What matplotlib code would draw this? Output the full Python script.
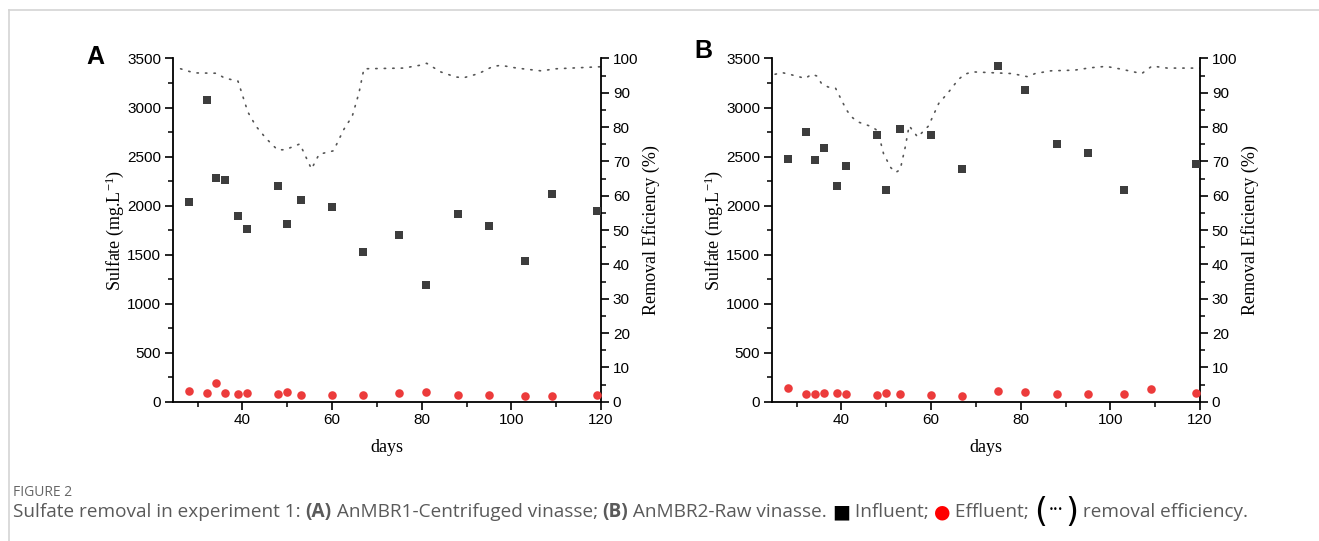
import matplotlib
matplotlib.use("Agg")
import matplotlib.pyplot as plt
from matplotlib.ticker import MultipleLocator
from matplotlib.lines import Line2D

# ---------------- data ----------------
days_A = [28, 32, 34, 36, 39, 41, 48, 50, 53, 60, 67, 75, 81, 88, 95, 103, 109, 119]
influent_A = [2036, 3078, 2281, 2261, 1890, 1760, 2200, 1815, 2053, 1989, 1529, 1703,
              1185, 1910, 1788, 1437, 2114, 1944]
effluent_A = [109, 92, 187, 85, 82, 85, 82, 99, 71, 65, 68, 92, 102, 65, 68, 58, 58, 65]

eff_days_A = [26.2, 29.2, 34.2, 36, 39.0, 41.2, 43, 45.2, 47.8, 49.5, 52.8, 55.4, 57.1,
              60.3, 62.6, 64.5, 66.0, 67.1, 75.9, 79.5, 81.1, 84.2, 87.6, 89.4, 92.7,
              95.9, 97.7, 101.2, 106.6, 110.0, 120]
eff_A = [97.0, 95.8, 95.7, 94.3, 93.4, 84.4, 80.3, 76.8, 73.4, 73.4, 75.1, 67.8, 72.1,
         73.1, 79.3, 83.2, 90.0, 97.0, 97.2, 98.0, 98.6, 96.1, 94.6, 94.4, 95.6,
         97.7, 98.0, 97.2, 96.4, 97.0, 97.6]

days_B_in = [28, 32, 34, 36, 39, 41, 48, 50, 53, 60, 67, 75, 81, 88, 95, 103, 119]
influent_B = [2479, 2751, 2462, 2588, 2200, 2407, 2724, 2155, 2782, 2721, 2373, 3425,
              3177, 2629, 2533, 2155, 2428]
days_B_ef = [28, 32, 34, 36, 39, 41, 48, 50, 53, 60, 67, 75, 81, 88, 95, 103, 109, 119]
effluent_B = [139, 78, 75, 88, 88, 78, 68, 88, 75, 71, 61, 109, 102, 75, 75, 78, 133, 85]

eff_days_B = [25.2, 26.7, 28.4, 31.9, 33.4, 34.5, 35.5, 37.0, 38.7, 41.0, 42.0, 43.5,
              46.8, 48.1, 49.4, 51.0, 52.1, 53.1, 54.2, 55.1, 57.0, 59.4, 61.7, 63.9,
              66.1, 67.5, 69.2, 72.8, 78.1, 81.5, 83.2, 86.7, 92.0, 95.6, 99.0, 102.4,
              105.9, 107.0, 109.3, 112.7, 120]
eff_B = [95.4, 95.9, 95.4, 94.2, 95.4, 94.9, 92.8, 91.7, 91.3, 85.3, 83.3, 81.6,
         80.1, 78.9, 72.2, 68.2, 66.8, 67.6, 74.0, 80.4, 77.1, 80.3, 86.9, 90.2,
         93.9, 95.4, 96.1, 95.9, 95.6, 94.7, 95.6, 96.4, 96.6, 97.3, 97.7, 96.9,
         95.9, 95.6, 97.8, 97.2, 97.2]

x_ticks = [40, 60, 80, 100, 120]
left_ticks = [0, 500, 1000, 1500, 2000, 2500, 3000, 3500]
right_ticks = [0, 10, 20, 30, 40, 50, 60, 70, 80, 90, 100]

# ---------------- style ----------------
W, H = 1319, 541
fig = plt.figure(figsize=(W / 100, H / 100), dpi=100)
fig.patch.set_facecolor("white")

SERIF = "Liberation Serif"
SANS = "Liberation Sans"
plt.rcParams["mathtext.fontset"] = "custom"
plt.rcParams["mathtext.rm"] = SERIF
plt.rcParams["mathtext.it"] = SERIF + ":italic"

SQ_COLOR = "#3d3d3d"
RED = "#ec3b3b"
LINE_COLOR = "#555555"


def panel(left, days_in, inf, days_ef, eff_out, edays, eff, letter, letter_x, letter_y):
    ax = fig.add_axes([left, 0.2575, 0.3245, 0.6344])
    ax2 = ax.twinx()
    ax.set_zorder(ax2.get_zorder() + 1)
    ax.patch.set_visible(False)

    ax.scatter(days_in, inf, marker="s", s=34, color=SQ_COLOR, linewidths=0,
               clip_on=False, zorder=3)
    ax.scatter(days_ef, eff_out, marker="o", s=38, color=RED, linewidths=0,
               clip_on=False, zorder=3)
    ax2.plot(edays, eff, color=LINE_COLOR, lw=1.2, linestyle=(0, (0.8, 4.3)),
             dash_capstyle="round")

    ax.set_xlim(24.5, 120)
    ax.set_ylim(0, 3500)
    ax2.set_ylim(0, 100)
    ax.set_xticks(x_ticks)
    ax.xaxis.set_minor_locator(MultipleLocator(10))
    ax.set_yticks(left_ticks)
    ax.yaxis.set_minor_locator(MultipleLocator(250))
    ax2.set_yticks(right_ticks)
    ax2.yaxis.set_minor_locator(MultipleLocator(5))

    for a in (ax, ax2):
        a.spines["top"].set_visible(False)
        for sp in a.spines.values():
            sp.set_linewidth(1.3)
        a.tick_params(which="major", direction="out", length=6, width=1.2,
                      labelsize=11, pad=2.5)
        a.tick_params(which="minor", direction="out", length=3.5, width=1.1)
        for lab in a.get_xticklabels() + a.get_yticklabels():
            lab.set_fontfamily(SANS)
    ax.spines["right"].set_visible(False)
    ax2.spines["left"].set_visible(False)
    ax2.spines["bottom"].set_visible(False)

    ax.set_xlabel("days", fontfamily=SERIF, fontsize=13, labelpad=8)
    ax.set_ylabel("Sulfate (mg.L$^{-1}$)", fontfamily=SERIF, fontsize=13, labelpad=1)
    ax2.set_ylabel("Removal Eficiency (%)", fontfamily=SERIF, fontsize=13, labelpad=3)

    fig.text(letter_x / W, 1 - letter_y / H, letter, fontfamily=SANS,
             fontweight="bold", fontsize=18, ha="center", va="center")
    return ax


panel(173 / W, days_A, influent_A, days_A, effluent_A, eff_days_A, eff_A, "A", 95, 57)
panel(772 / W, days_B_in, influent_B, days_B_ef, effluent_B, eff_days_B, eff_B, "B", 703, 51)

# frame lines of the page
fig.add_artist(Line2D([9 / W, 1], [1 - 10 / H, 1 - 10 / H], color="#d4d4d4", lw=1.2))
fig.add_artist(Line2D([9 / W, 9 / W], [0, 1 - 10 / H], color="#d4d4d4", lw=1.2))

# caption
CAP = ["Open Sans", "DejaVu Sans"]
GRAY = "#5a5a5a"
fig.text(13 / W, 1 - 492 / H, "FIGURE 2", fontfamily=CAP, fontsize=10,
         color="#666666", va="center", ha="left")

pieces = [
    ("Sulfate removal in experiment 1: ", dict(color=GRAY)),
    ("(A)", dict(color=GRAY, fontweight="bold")),
    (" AnMBR1-Centrifuged vinasse; ", dict(color=GRAY)),
    ("(B)", dict(color=GRAY, fontweight="bold")),
    (" AnMBR2-Raw vinasse. ", dict(color=GRAY)),
    ("\u25A0", dict(color="black", fontfamily=["DejaVu Sans"])),
    (" Influent; ", dict(color=GRAY)),
    ("\u25CF", dict(color="red", fontfamily=["DejaVu Sans"])),
    (" Effluent; ", dict(color=GRAY)),
    ("(", dict(color="black", fontsize=24, fontfamily=["DejaVu Sans"])),
    ("\u2022\u2022\u2022", dict(color="black", fontsize=6, fontfamily=["DejaVu Sans"])),
    (")", dict(color="black", fontsize=24, fontfamily=["DejaVu Sans"])),
    (" removal efficiency.", dict(color=GRAY)),
]
renderer = fig.canvas.get_renderer()
x = 13.0
ycap = 1 - 512 / H
for txt, props in pieces:
    kw = dict(fontfamily=CAP, fontsize=13.7)
    kw.update(props)
    dy = 3 if txt == "\u2022\u2022\u2022" else 0
    t = fig.text(x / W, ycap + dy / H, txt, va="center", ha="left", **kw)
    bb = t.get_window_extent(renderer=renderer)
    x += bb.width + (2 if txt in ("(", "\u2022\u2022\u2022") else 0)

fig.savefig("out.png", dpi=100, facecolor="white")
